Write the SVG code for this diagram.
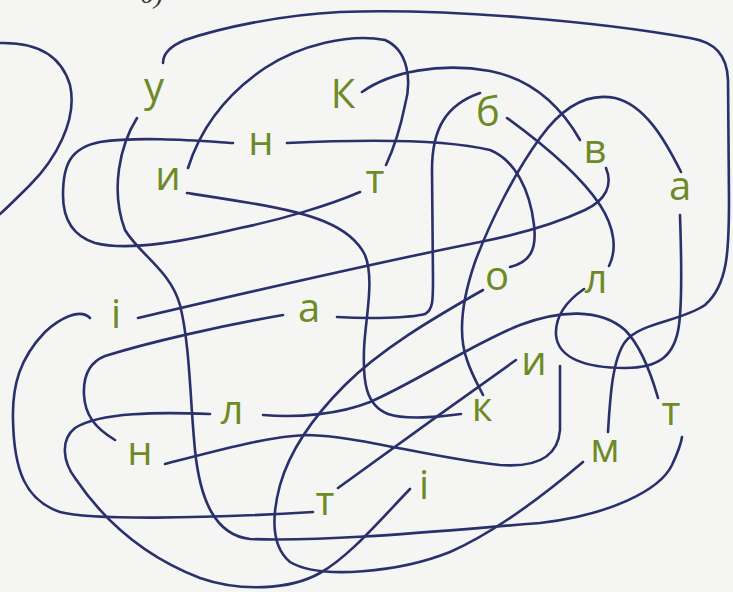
<svg xmlns="http://www.w3.org/2000/svg" width="733" height="592" viewBox="0 0 733 592">
<style>
.bg{fill:#f5f5f3}
.c{fill:none;stroke:#29306c;stroke-width:2.6;stroke-linecap:round;stroke-linejoin:round}
.t{font-family:"Open Sans","DejaVu Sans",sans-serif;font-size:40px;fill:#6e8a26;text-anchor:middle}
.cap{font-family:"Liberation Serif",serif;font-style:italic;font-size:28px;fill:#333}
</style>
<rect class="bg" x="0" y="0" width="733" height="592"/>
<text class="cap" x="140" y="3">б)</text>
<g id="connectors">
<path class="c" d="M0,43 C40,42 62,58 70,85 C78,120 55,160 30,185 C18,197 8,207 0,214"/>
<path class="c" d="M362,92 C390,72 440,62 490,71 C530,79 560,105 580,140"/>
<path class="c" d="M606,168 C613,185 606,200 585,210 C555,224 520,234 480,242 C400,258 300,280 138,318"/>
<path class="c" d="M90,318 C80,308 60,318 45,332 C20,358 12,385 13,420 C14,470 25,500 60,512 C90,520 200,519 313,512"/>
<path class="c" d="M338,488 C390,450 460,400 516,360"/>
<path class="c" d="M165,464 C220,450 270,436 307,435 C360,436 430,458 500,465 C540,468 558,455 560,430 L560,366"/>
<path class="c" d="M115,440 C95,428 85,415 84,395 C83,375 90,362 105,356 C150,342 220,326 283,315"/>
<path class="c" d="M337,317 C370,319 410,318 425,314 C433,310 433,300 433,280 L432,170 C432,130 445,105 480,93"/>
<path class="c" d="M507,118 C540,142 580,175 600,205 C615,228 617,250 609,266"/>
<path class="c" d="M584,289 C568,300 555,315 556,335 C558,358 585,368 625,368 C660,368 675,355 679,325 C683,295 681,250 680,215"/>
<path class="c" d="M681,172 C665,140 645,105 615,98 C585,92 560,110 540,138 C515,172 490,222 475,262 C462,300 458,335 467,360 C472,375 478,385 483,395"/>
<path class="c" d="M461,414 C440,417 405,420 388,414 C365,405 363,380 364,350 C365,320 375,280 365,255 C350,225 310,213 250,203 C220,198 200,195 187,193"/>
<path class="c" d="M188,168 C200,130 225,95 265,68 C300,45 350,33 385,40 C408,50 412,80 405,105 C400,130 393,150 386,165"/>
<path class="c" d="M360,192 C330,205 280,220 240,228 C190,240 130,252 95,243 C70,235 63,215 63,195 C63,165 70,148 100,142 C140,136 200,141 233,143"/>
<path class="c" d="M287,143 C350,140 440,138 490,150 C515,160 530,190 534,225 C537,250 530,262 510,267"/>
<path class="c" d="M483,290 C430,320 380,350 345,385 C315,415 290,450 280,485 C272,515 270,545 290,562 C320,580 400,572 450,552 C500,530 550,490 583,462"/>
<path class="c" d="M608,432 C610,400 612,360 625,342 C640,322 680,322 705,305 C728,285 729,250 729,200 L728,80 C727,55 715,42 690,38 C600,22 450,8 340,12 C280,15 220,28 185,40 C168,47 163,55 163,63"/>
<path class="c" d="M137,118 C120,145 110,190 125,230 C140,255 170,270 180,305 C190,345 190,400 195,450 C200,500 215,535 250,539 C330,542 450,530 540,523 C610,515 660,490 672,465 C678,452 681,445 682,437"/>
<path class="c" d="M263,415 C300,418 340,414 370,402 C420,380 470,345 520,325 C560,310 600,308 625,330 C640,345 650,370 658,398"/>
<path class="c" d="M210,414 C160,412 100,412 75,428 C60,440 63,462 75,478 C100,515 140,555 200,578 C240,592 290,590 320,573 C350,556 380,520 410,489"/>
</g>
<g id="n1"><text class="t" x="154" y="101">у</text></g>
<g id="n2"><text class="t" x="343" y="108">К</text></g>
<g id="n3"><text class="t" x="488" y="126">б</text></g>
<g id="n4"><text class="t" x="595" y="163">в</text></g>
<g id="n5"><text class="t" x="680" y="200">а</text></g>
<g id="n6"><text class="t" x="261" y="155">н</text></g>
<g id="n7"><text class="t" x="168" y="190">и</text></g>
<g id="n8"><text class="t" x="375" y="193">т</text></g>
<g id="n9"><text class="t" x="497" y="290">о</text></g>
<g id="n10"><text class="t" x="596" y="293">л</text></g>
<g id="n11"><text class="t" x="116" y="328">і</text></g>
<g id="n12"><text class="t" x="309" y="322">а</text></g>
<g id="n13"><text class="t" x="534" y="375">и</text></g>
<g id="n14"><text class="t" x="482" y="421">к</text></g>
<g id="n15"><text class="t" x="232" y="424">л</text></g>
<g id="n16"><text class="t" x="140" y="465">н</text></g>
<g id="n17"><text class="t" x="671" y="425">т</text></g>
<g id="n18"><text class="t" x="605" y="462">м</text></g>
<g id="n19"><text class="t" x="325" y="515">т</text></g>
<g id="n20"><text class="t" x="424" y="499">і</text></g>
</svg>
